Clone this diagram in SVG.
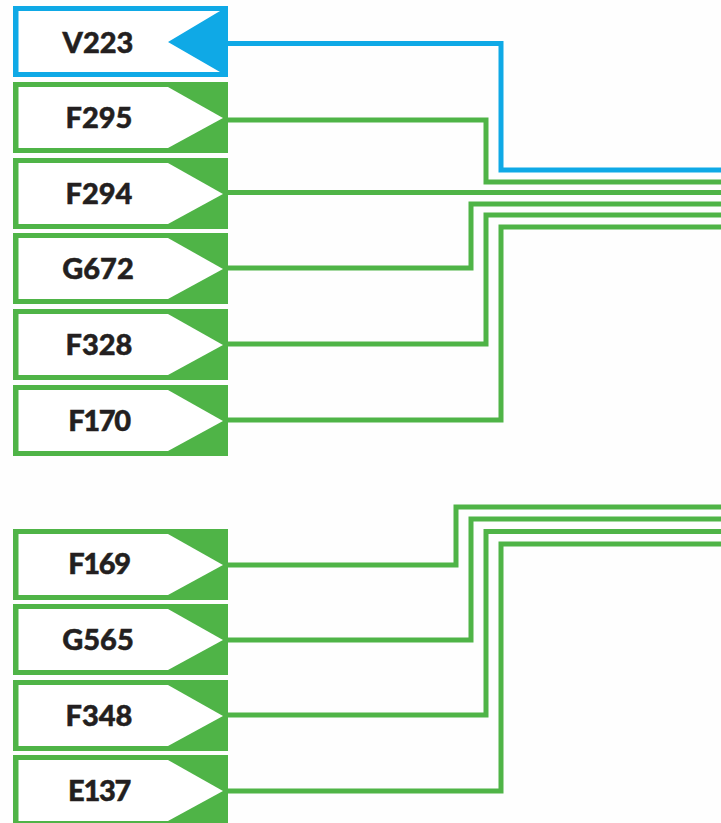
<svg xmlns="http://www.w3.org/2000/svg" width="721" height="823" viewBox="0 0 721 823">
<style>
.g{fill:#4fb447}.b{fill:#0fa9e6}.w{fill:#fff}
.t{font-family:"Lato","Liberation Sans",sans-serif;font-weight:900;font-size:29px;fill:#231f20;stroke:#231f20;stroke-width:.5;text-anchor:middle}
.n{letter-spacing:-1.300px}
.l{fill:none;stroke-width:5}.lg{stroke:#4fb447}.lb{stroke:#0fa9e6}
</style>
<defs>
<g id="pg"><rect class="g" x="13" y="0" width="215" height="71"/><path class="w" d="M18.500 5H168L223 36L168 66H18.500Z"/></g>
</defs>
<rect width="721" height="823" fill="#fefefe"/>
<g id="connectors">
<path class="l lb" d="M228 43.500H501V170H721"/>
<path class="l lg" d="M228 120H486V182H721"/>
<path class="l lg" d="M228 192.500H721"/>
<path class="l lg" d="M228 268H471V204H721"/>
<path class="l lg" d="M228 344H486V215H721"/>
<path class="l lg" d="M228 420H501V227H721"/>
<path class="l lg" d="M228 565H456V507H721"/>
<path class="l lg" d="M228 640H471V519H721"/>
<path class="l lg" d="M228 715H486V531.500H721"/>
<path class="l lg" d="M228 791H501V544H721"/>
</g>
<g id="V223"><rect class="b" x="13" y="6" width="215" height="71"/><path class="w" d="M18.500 11H220L168 42L220 72H18.500Z"/><text class="t" x="98" y="53">V223</text></g>
<g id="F295"><use href="#pg" y="82"/><text class="t" x="99" y="128">F295</text></g>
<g id="F294"><use href="#pg" y="158"/><text class="t" x="99" y="204">F294</text></g>
<g id="G672"><use href="#pg" y="233"/><text class="t" x="98" y="279">G672</text></g>
<g id="F328"><use href="#pg" y="309"/><text class="t" x="99" y="355">F328</text></g>
<g id="F170"><use href="#pg" y="385"/><text class="t n" x="99" y="431">F170</text></g>
<g id="F169"><use href="#pg" y="529"/><text class="t n" x="99" y="574">F169</text></g>
<g id="G565"><use href="#pg" y="604"/><text class="t" x="98" y="650">G565</text></g>
<g id="F348"><use href="#pg" y="680"/><text class="t" x="99" y="726">F348</text></g>
<g id="E137"><use href="#pg" y="755"/><text class="t n" x="99" y="801">E137</text></g>
</svg>
